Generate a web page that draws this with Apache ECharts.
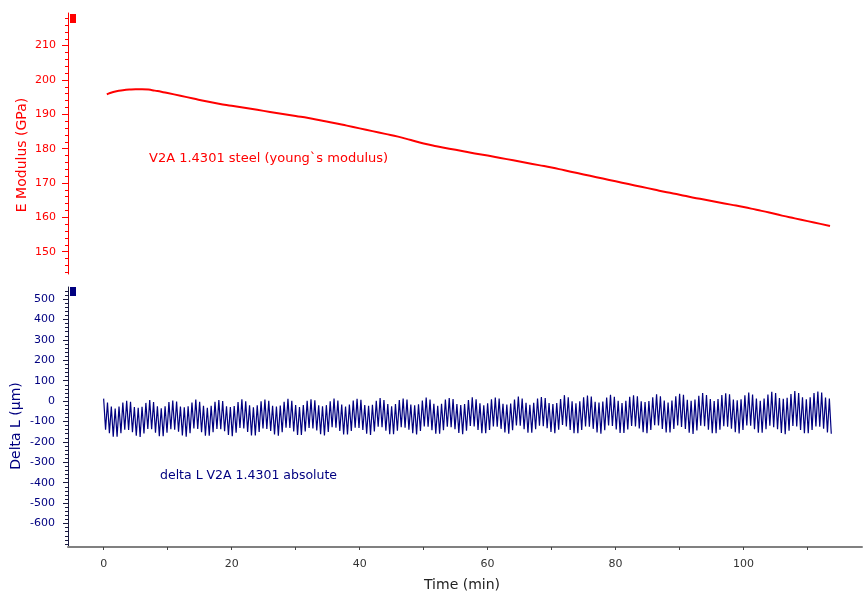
<!DOCTYPE html>
<html>
<head>
<meta charset="utf-8">
<script src="https://cdn.jsdelivr.net/npm/echarts@6/dist/echarts.min.js"></script>
<style>
html,body{margin:0;padding:0;background:#fff;}
#chart{width:863px;height:596px;}
</style>
</head>
<body>
<div id="chart"></div>
<script>
// ---- data ----
var modTime = [0.5,1,2,3,4,5,6,7,8,9,10,12,14,16,18,20,22,24,26,28,30,32,34,36,38,40,42,44,46,48,50,52,54,56,58,60,62,64,66,68,70,72,74,76,78,80,82,84,86,88,90,92,94,96,98,100,102,104,106,108,110,112,113.5];
var modValue = [195.8,196.2,196.7,197.0,197.2,197.3,197.3,197.2,196.9,196.6,196.2,195.4,194.6,193.8,193.1,192.5,191.9,191.3,190.7,190.1,189.5,188.9,188.2,187.5,186.7,185.9,185.1,184.3,183.5,182.5,181.5,180.7,180.0,179.3,178.6,178.0,177.3,176.6,175.9,175.2,174.5,173.7,172.9,172.1,171.3,170.5,169.7,168.9,168.1,167.3,166.6,165.8,165.1,164.4,163.7,163.0,162.2,161.4,160.5,159.7,158.9,158.1,157.5];

var deltaStart = 0;      // min
var deltaStep = 0.3;     // sampling interval, min
var deltaValues = [
12,-140,-7,-157,-27,-174,-37,-174,-27,-157,-7,-140,
1,-142,-4,-152,-29,-170,-33,-176,-28,-159,-9,-136,
5,-138,-5,-155,-25,-172,-35,-172,-25,-155,-5,-138,
3,-140,-2,-150,-27,-168,-31,-174,-26,-157,-7,-134,
7,-136,-3,-153,-23,-170,-33,-170,-23,-153,-3,-136,
5,-138,0,-148,-25,-166,-29,-172,-24,-155,-5,-132,
9,-134,-1,-151,-21,-168,-31,-168,-21,-151,-1,-134,
7,-136,2,-146,-23,-164,-27,-170,-22,-153,-3,-130,
11,-132,1,-149,-19,-166,-29,-166,-19,-149,1,-132,
9,-134,4,-144,-21,-162,-25,-168,-20,-151,-1,-128,
13,-130,3,-147,-17,-164,-27,-164,-17,-147,3,-130,
11,-132,6,-142,-19,-160,-23,-166,-18,-149,1,-126,
15,-128,5,-145,-15,-162,-25,-162,-15,-145,5,-128,
13,-130,8,-140,-17,-158,-21,-164,-16,-147,3,-124,
17,-126,7,-143,-13,-160,-23,-160,-13,-143,7,-126,
15,-128,10,-138,-15,-156,-19,-162,-14,-145,5,-122,
19,-124,9,-141,-11,-158,-21,-158,-11,-141,9,-124,
17,-126,12,-136,-13,-154,-17,-160,-12,-143,7,-120,
22,-121,12,-138,-8,-155,-18,-155,-8,-138,12,-121,
20,-123,15,-133,-10,-151,-14,-157,-9,-140,10,-117,
29,-124,19,-141,-1,-158,-11,-158,-1,-141,19,-124,
27,-126,22,-136,-3,-154,-7,-160,-2,-143,17,-120,
31,-122,21,-139,1,-156,-9,-156,1,-139,21,-122,
29,-124,24,-134,-1,-152,-5,-158,0,-141,19,-118,
33,-120,23,-137,3,-154,-7,-154,3,-137,23,-120,
36,-127,31,-137,6,-155,2,-161,7,-144,26,-121,
40,-123,30,-140,10,-157,0,-157,10,-140,30,-123,
38,-125,33,-135,8,-153,4,-159,9,-142,28,-119,
42,-121,32,-138,12,-155,2,-155,12,-138,32,-121,
45,-128,40,-138,15,-156,11,-162,16,-145,35,-122,
49,-124,39,-141,19,-158,9,-158,19,-141,39,-124,
47,-126,42,-136,17,-154,13,-160
];

var xTicks = [0,10,20,30,40,50,60,70,80,90,100,110];
var xLabels = [0,20,40,60,80,100];
var eMajor = [150,160,170,180,190,200,210];
var dMajor = [-600,-500,-400,-300,-200,-100,0,100,200,300,400,500];

var modName = 'V2A 1.4301 steel (young`s modulus)';
var deltaName = 'delta L V2A 1.4301 absolute';

// minor tick lists
var eMinor = [];
for (var m = 144; m <= 218; m += 2) eMinor.push(m);
var dMinor = [];
for (var k = -700; k <= 540; k += 20) dMinor.push(k);

var modData = modTime.map(function (t, i) { return [t, modValue[i]]; });
var deltaData = deltaValues.map(function (v, i) { return [deltaStart + i * deltaStep, v]; });

var FONT = 'DejaVu Sans';
var RED = '#ff0000';
var NAVY = '#000080';
var AXD = '#1a1a40';

var chart = echarts.init(document.getElementById('chart'), null, {renderer: 'canvas'});
var gridLeft = 68, gridRight = 1;
chart.setOption({
  animation: false,
  backgroundColor: '#fff',
  grid: [
    {left: gridLeft, right: gridRight, top: 13, height: 261},
    {left: gridLeft, right: gridRight, top: 287, height: 260}
  ],
  xAxis: [
    {type: 'value', gridIndex: 0, min: -5.57, max: 118.5, show: false},
    {type: 'value', gridIndex: 1, min: -5.57, max: 118.5, position: 'bottom',
      axisLine: {show: true, onZero: false, lineStyle: {color: '#808080', width: 2}},
      axisTick: {show: true, length: 3, lineStyle: {color: '#444'}, customValues: xTicks},
      axisLabel: {show: true, color: '#333', fontFamily: FONT, fontSize: 11, margin: 12, customValues: xLabels},
      splitLine: {show: false}
    }
  ],
  yAxis: [
    {type: 'value', gridIndex: 0, min: 143.5, max: 219.5, position: 'left',
      axisLine: {show: true, onZero: false, lineStyle: {color: RED, width: 1}},
      axisTick: {show: true, length: 6, lineStyle: {color: RED}, customValues: eMajor},
      axisLabel: {show: true, color: RED, fontFamily: FONT, fontSize: 11, margin: 12, customValues: eMajor},
      splitLine: {show: false}
    },
    {type: 'value', gridIndex: 0, min: 143.5, max: 219.5, position: 'left',
      axisLine: {show: false, onZero: false},
      axisTick: {show: true, length: 3, lineStyle: {color: RED}, customValues: eMinor},
      axisLabel: {show: false},
      splitLine: {show: false}
    },
    {type: 'value', gridIndex: 1, min: -715, max: 559, position: 'left',
      axisLine: {show: true, onZero: false, lineStyle: {color: AXD, width: 1}},
      axisTick: {show: true, length: 5, lineStyle: {color: AXD}, customValues: dMajor},
      axisLabel: {show: true, color: NAVY, fontFamily: FONT, fontSize: 11, margin: 13, customValues: dMajor},
      splitLine: {show: false}
    },
    {type: 'value', gridIndex: 1, min: -715, max: 559, position: 'left',
      axisLine: {show: false, onZero: false},
      axisTick: {show: true, length: 3, lineStyle: {color: AXD}, customValues: dMinor},
      axisLabel: {show: false},
      splitLine: {show: false}
    }
  ],
  series: [
    {name: modName, type: 'line', xAxisIndex: 0, yAxisIndex: 0, data: modData,
      showSymbol: false, smooth: true, lineStyle: {color: RED, width: 2}, itemStyle: {color: RED}},
    {name: deltaName, type: 'line', xAxisIndex: 1, yAxisIndex: 2, data: deltaData,
      showSymbol: false, sampling: null, lineStyle: {color: NAVY, width: 1.2, join: 'bevel'}, itemStyle: {color: NAVY}}
  ],
  graphic: [
    {type: 'rect', left: 70, top: 14, shape: {width: 6, height: 9}, style: {fill: RED}},
    {type: 'rect', left: 70, top: 287, shape: {width: 6, height: 9}, style: {fill: NAVY}},
    {type: 'text', x: 22, y: 155, rotation: Math.PI / 2,
      style: {text: 'E Modulus (GPa)', fill: RED, font: '14px ' + FONT, align: 'center', verticalAlign: 'middle'}},
    {type: 'text', x: 16, y: 426, rotation: Math.PI / 2,
      style: {text: 'Delta L (µm)', fill: NAVY, font: '14px ' + FONT, align: 'center', verticalAlign: 'middle'}},
    {type: 'text', x: 462, y: 585,
      style: {text: 'Time (min)', fill: '#222', font: '14px ' + FONT, align: 'center', verticalAlign: 'middle'}},
    {type: 'text', x: 149, y: 159,
      style: {text: modName, fill: RED, font: '13px ' + FONT, align: 'left', verticalAlign: 'middle'}},
    {type: 'text', x: 160, y: 476,
      style: {text: deltaName, fill: NAVY, font: '12.5px ' + FONT, align: 'left', verticalAlign: 'middle'}}
  ]
});
</script>
</body>
</html>
